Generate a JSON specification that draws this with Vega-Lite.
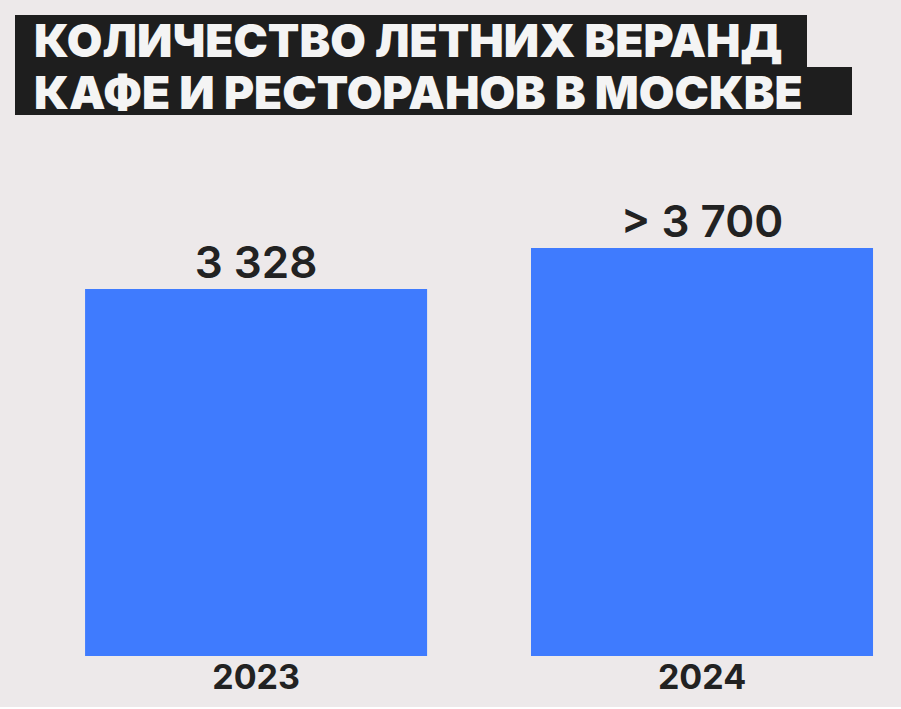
{
  "$schema": "https://vega.github.io/schema/vega-lite/v6.json",
  "background": "#ede9ea",
  "padding": {"left": 15, "top": 15, "right": 16, "bottom": 12},
  "config": {"view": {"stroke": null}, "font": "Inter"},
  "spacing": 22,
  "vconcat": [
    {
      "spacing": 0,
      "bounds": "flush",
      "vconcat": [
        {
          "width": 792,
          "height": 52,
          "view": {"fill": "#1e1e1e", "stroke": null},
          "data": {"values": [{"line": "КОЛИЧЕСТВО ЛЕТНИХ ВЕРАНД"}]},
          "mark": {"type": "text", "font": "Inter", "fontSize": 46, "fontWeight": 900, "color": "#f4f4f4", "align": "left", "baseline": "middle", "dx": 19, "dy": 2},
          "encoding": {
            "text": {"field": "line"},
            "x": {"field": "line", "type": "nominal", "scale": {"align": 0}, "axis": null},
            "y": {"field": "line", "type": "nominal", "axis": null}
          }
        },
        {
          "width": 837,
          "height": 48,
          "view": {"fill": "#1e1e1e", "stroke": null},
          "data": {"values": [{"line": "КАФЕ И РЕСТОРАНОВ В МОСКВЕ"}]},
          "mark": {"type": "text", "font": "Inter", "fontSize": 46, "fontWeight": 900, "color": "#f4f4f4", "align": "left", "baseline": "middle", "dx": 19, "dy": 4},
          "encoding": {
            "text": {"field": "line"},
            "x": {"field": "line", "type": "nominal", "scale": {"align": 0}, "axis": null},
            "y": {"field": "line", "type": "nominal", "axis": null}
          }
        }
      ]
    },
    {
      "width": 870,
      "height": 516,
      "data": {
        "values": [
          {"year": "2023", "value": 3328, "label": "3 328"},
          {"year": "2024", "value": 3700, "label": "> 3 700"}
        ]
      },
      "encoding": {
        "x": {
          "field": "year",
          "type": "nominal",
          "scale": {"paddingInner": 0.233, "paddingOuter": 0.092, "align": 0.854},
          "axis": {
            "title": null,
            "labelAngle": 0,
            "domain": false,
            "ticks": false,
            "labelFont": "Inter",
            "labelFontSize": 34,
            "labelFontWeight": "bold",
            "labelColor": "#222222",
            "labelPadding": 5
          }
        },
        "y": {
          "field": "value",
          "type": "quantitative",
          "scale": {"domain": [0, 4680]},
          "axis": null
        }
      },
      "layer": [
        {"mark": {"type": "bar", "color": "#3f7bfe"}},
        {
          "mark": {"type": "text", "baseline": "alphabetic", "dy": -11, "font": "Inter", "fontSize": 44, "fontWeight": 600, "color": "#222222"},
          "encoding": {"text": {"field": "label"}}
        }
      ]
    }
  ]
}
